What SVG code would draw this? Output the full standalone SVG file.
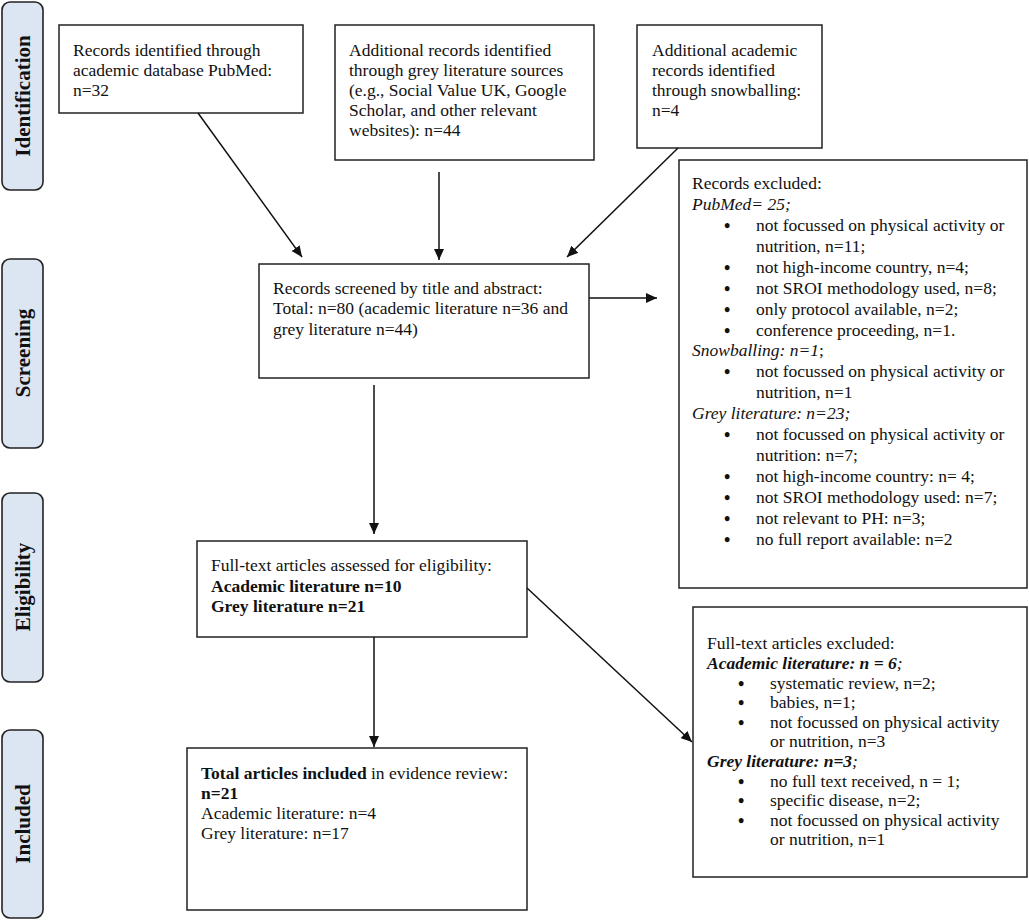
<svg xmlns="http://www.w3.org/2000/svg" width="1029" height="921" viewBox="0 0 1029 921">
<defs>
<marker id="ah" markerUnits="userSpaceOnUse" markerWidth="12" markerHeight="10" refX="11" refY="5" orient="auto">
<path d="M0,0 L11,5 L0,10 z" fill="#111"/>
</marker>
<style>
.box{fill:#fff;stroke:#222;stroke-width:1.5}
.stage{fill:#dce6f2;stroke:#222;stroke-width:1.6}
.t{font-family:"Liberation Serif","Times New Roman",serif;font-size:17.5px;fill:#111}
.bu{font-family:"Liberation Serif","Times New Roman",serif;font-size:18px;font-weight:bold;fill:#111}
.st{font-family:"Liberation Serif","Times New Roman",serif;font-size:21px;font-weight:bold;fill:#111}
.b{font-weight:bold}
.i{font-style:italic}
.con line{stroke:#111;stroke-width:1.5;marker-end:url(#ah)}
</style>
</defs>
<rect width="1029" height="921" fill="#fff"/>

<g id="stage-identification">
<rect class="stage" x="2" y="2" width="41" height="188" rx="8"/>
<text class="st" text-anchor="middle" transform="translate(30,96) rotate(-90)">Identification</text>
</g>
<g id="stage-screening">
<rect class="stage" x="2" y="259" width="41" height="189" rx="8"/>
<text class="st" text-anchor="middle" transform="translate(30,353) rotate(-90)">Screening</text>
</g>
<g id="stage-eligibility">
<rect class="stage" x="2" y="493" width="41" height="189" rx="8"/>
<text class="st" text-anchor="middle" transform="translate(30,587) rotate(-90)">Eligibility</text>
</g>
<g id="stage-included">
<rect class="stage" x="2" y="730" width="41" height="188" rx="8"/>
<text class="st" text-anchor="middle" transform="translate(30,824) rotate(-90)">Included</text>
</g>

<g id="pubmed">
<rect class="box" x="59" y="25" width="244" height="88"/>
<text class="t" x="73" y="56">Records identified through</text>
<text class="t" x="73" y="76">academic database PubMed:</text>
<text class="t" x="73" y="96">n=32</text>
</g>

<g id="grey">
<rect class="box" x="335" y="25" width="259" height="135"/>
<text class="t" x="349" y="56">Additional records identified</text>
<text class="t" x="349" y="76">through grey literature sources</text>
<text class="t" x="349" y="96">(e.g., Social Value UK, Google</text>
<text class="t" x="349" y="116">Scholar, and other relevant</text>
<text class="t" x="349" y="136">websites): n=44</text>
</g>

<g id="snowball">
<rect class="box" x="637" y="25" width="185" height="123"/>
<text class="t" x="652" y="56">Additional academic</text>
<text class="t" x="652" y="76">records identified</text>
<text class="t" x="652" y="96">through snowballing:</text>
<text class="t" x="652" y="116">n=4</text>
</g>

<g id="screened">
<rect class="box" x="259" y="264" width="330" height="114"/>
<text class="t" x="273" y="294">Records screened by title and abstract:</text>
<text class="t" x="273" y="314">Total: n=80 (academic literature n=36 and</text>
<text class="t" x="273" y="335">grey literature n=44)</text>
</g>

<g id="records-excluded">
<rect class="box" x="679" y="160" width="348" height="428"/>
<text class="t" x="692" y="189">Records excluded:</text>
<text class="t i" x="692" y="210">PubMed= 25;</text>
<text class="bu" x="724" y="232">•</text><text class="t" x="756" y="231">not focussed on physical activity or</text>
<text class="t" x="756" y="252">nutrition, n=11;</text>
<text class="bu" x="724" y="274">•</text><text class="t" x="756" y="273">not high-income country, n=4;</text>
<text class="bu" x="724" y="295">•</text><text class="t" x="756" y="294">not SROI methodology used, n=8;</text>
<text class="bu" x="724" y="316">•</text><text class="t" x="756" y="315">only protocol available, n=2;</text>
<text class="bu" x="724" y="337">•</text><text class="t" x="756" y="336">conference proceeding, n=1.</text>
<text class="t" x="692" y="356"><tspan class="i">Snowballing: n=1</tspan>;</text>
<text class="bu" x="724" y="378">•</text><text class="t" x="756" y="377">not focussed on physical activity or</text>
<text class="t" x="756" y="398">nutrition, n=1</text>
<text class="t i" x="692" y="419">Grey literature: n=23;</text>
<text class="bu" x="724" y="441">•</text><text class="t" x="756" y="440">not focussed on physical activity or</text>
<text class="t" x="756" y="461">nutrition: n=7;</text>
<text class="bu" x="724" y="483">•</text><text class="t" x="756" y="482">not high-income country: n= 4;</text>
<text class="bu" x="724" y="504">•</text><text class="t" x="756" y="503">not SROI methodology used: n=7;</text>
<text class="bu" x="724" y="525">•</text><text class="t" x="756" y="524">not relevant to PH: n=3;</text>
<text class="bu" x="724" y="546">•</text><text class="t" x="756" y="545">no full report available: n=2</text>
</g>

<g id="assessed">
<rect class="box" x="197" y="541" width="330" height="96"/>
<text class="t" x="211" y="571">Full-text articles assessed for eligibility:</text>
<text class="t b" x="211" y="592">Academic literature n=10</text>
<text class="t b" x="211" y="612">Grey literature n=21</text>
</g>

<g id="fulltext-excluded">
<rect class="box" x="693" y="607" width="334" height="270"/>
<text class="t" x="707" y="649">Full-text articles excluded:</text>
<text class="t" x="707" y="669"><tspan class="b i">Academic literature: n = 6</tspan><tspan class="i">;</tspan></text>
<text class="bu" x="738" y="690">•</text><text class="t" x="770" y="689">systematic review, n=2;</text>
<text class="bu" x="738" y="709">•</text><text class="t" x="770" y="708">babies, n=1;</text>
<text class="bu" x="738" y="729">•</text><text class="t" x="770" y="728">not focussed on physical activity</text>
<text class="t" x="770" y="747">or nutrition, n=3</text>
<text class="t" x="707" y="767"><tspan class="b i">Grey literature: n=3</tspan><tspan class="i">;</tspan></text>
<text class="bu" x="738" y="788">•</text><text class="t" x="770" y="787">no full text received, n = 1;</text>
<text class="bu" x="738" y="807">•</text><text class="t" x="770" y="806">specific disease, n=2;</text>
<text class="bu" x="738" y="827">•</text><text class="t" x="770" y="826">not focussed on physical activity</text>
<text class="t" x="770" y="845">or nutrition, n=1</text>
</g>

<g id="included">
<rect class="box" x="187" y="748" width="340" height="162"/>
<text class="t" x="201" y="779"><tspan class="b">Total articles included</tspan> in evidence review:</text>
<text class="t b" x="201" y="799">n=21</text>
<text class="t" x="201" y="819">Academic literature: n=4</text>
<text class="t" x="201" y="839">Grey literature: n=17</text>
</g>

<g id="connectors" class="con">
<line x1="198" y1="113" x2="302" y2="257"/>
<line x1="439" y1="172" x2="439" y2="260"/>
<line x1="678" y1="148" x2="567" y2="257"/>
<line x1="589" y1="298" x2="657" y2="298"/>
<line x1="374" y1="385" x2="374" y2="534"/>
<line x1="374" y1="637" x2="374" y2="747"/>
<line x1="527" y1="588" x2="692" y2="742"/>
</g>
</svg>
